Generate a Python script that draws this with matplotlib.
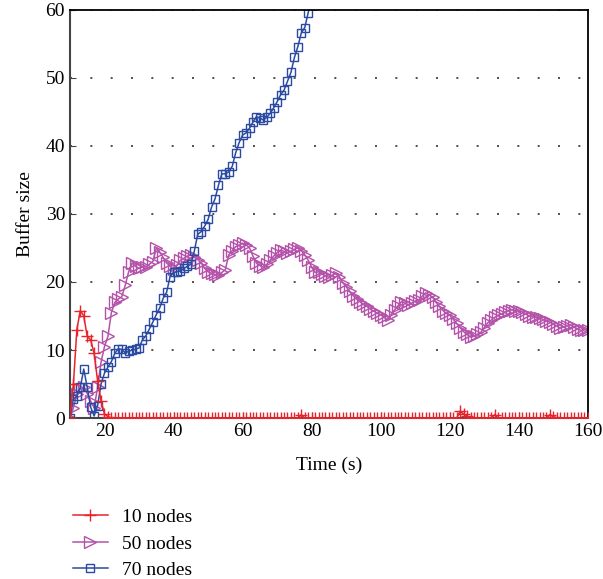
import matplotlib
matplotlib.use("Agg")
import matplotlib.pyplot as plt

plt.rcParams['font.family'] = ['Liberation Serif', 'DejaVu Serif']

# time axis (s)
t10 = list(range(10, 161))
t50 = list(range(10, 161))
t70 = list(range(10, 81))

nodes10 = [
    0, 5, 13, 15.8, 15, 12, 11.5, 9.5, 5.5, 2.5,      # 10-19
    0.6, 0.2, 0, 0, 0, 0, 0, 0, 0, 0,                 # 20-29
    0, 0, 0, 0, 0, 0, 0, 0, 0, 0,                     # 30-39
    0, 0, 0, 0, 0, 0, 0, 0, 0, 0,                     # 40-49
    0, 0, 0, 0, 0, 0, 0, 0, 0, 0,                     # 50-59
    0, 0, 0, 0, 0, 0, 0, 0, 0, 0,                     # 60-69
    0, 0, 0, 0, 0, 0, 0, 0.5, 0, 0,                   # 70-79
    0, 0, 0, 0, 0, 0, 0, 0, 0, 0,                     # 80-89
    0, 0, 0, 0, 0, 0, 0, 0, 0, 0,                     # 90-99
    0, 0, 0, 0, 0, 0, 0, 0, 0, 0,                     # 100-109
    0, 0, 0, 0, 0, 0, 0, 0, 0, 0,                     # 110-119
    0, 0, 0, 1.0, 0.6, 0.3, 0, 0, 0, 0,               # 120-129
    0, 0, 0, 0.5, 0, 0, 0, 0, 0, 0,                   # 130-139
    0, 0, 0, 0, 0, 0, 0, 0, 0, 0.5,                   # 140-149
    0.2, 0, 0, 0, 0, 0, 0, 0, 0, 0,                   # 150-159
    0,                                                # 160
]

nodes50 = [
    0, 1.5, 3.5, 4.3, 4.5, 3.6, 2.5, 1.5, 4.5, 8.2,
    10.5, 12, 15.5, 17, 17.5, 17.8, 19.5, 21.5, 22.8, 22.3,
    22, 22.2, 22.2, 22.6, 23, 25, 24.4, 23.6, 22.8, 22.3,
    21.9, 22.5, 23.2, 23.5, 23.8, 24, 23.7, 23.3, 22.8, 22,
    21.5, 21.3, 21.1, 21, 21.4, 21.8, 24, 24.6, 25.2, 25.4,
    25.7, 25.5, 25, 23.8, 22.8, 22.4, 22.2, 22.6, 23.2, 23.8,
    24.3, 24.7, 24.5, 24.3, 24.5, 24.8, 25, 24.6, 24, 23.2,
    22.2, 21.4, 21.5, 21.2, 20.9, 20.7, 21, 21.3, 20.8, 19.9,
    19.3, 18.6, 18, 17.5, 17.1, 16.7, 16.4, 16, 15.7, 15.4,
    15.2, 14.8, 14.4, 15.2, 15.9, 16.5, 17.1, 16.9, 16.6, 16.9,
    17.2, 17.4, 17.9, 18.4, 18.1, 17.8, 17, 16.4, 15.8, 15.4,
    15.1, 14.5, 13.9, 13.3, 12.7, 12.3, 11.9, 12, 12.3, 12.6,
    13.3, 14, 14.4, 14.8, 15.1, 15.3, 15.6, 15.8, 15.9, 15.8,
    15.7, 15.6, 15.3, 15, 14.9, 14.8, 14.7, 14.5, 14.3, 14.1,
    13.8, 13.5, 13.2, 13.4, 13.6, 13.7, 13.4, 13.1, 12.9, 13,
    12.9,
]

nodes70 = [
    0, 2.8, 3.2, 4.5, 7.2, 4.5, 1.6, 0.3, 1.8, 5,
    6.6, 7.5, 8.3, 9.5, 10.2, 10.1, 9.6, 9.8, 10, 10.1,
    10.3, 11.5, 12.1, 13.1, 14.1, 15.2, 16.2, 17.6, 18.5, 20.8,
    21.4, 21.5, 21.6, 22, 22.3, 22.6, 24.5, 27, 27.4, 28.2,
    29.2, 31, 32.2, 34.2, 35.9, 35.9, 36.2, 37, 39, 40.5,
    41.6, 41.9, 42.6, 43.5, 44.3, 44.1, 43.8, 44.2, 44.8, 45.6,
    46.5, 47.5, 48.2, 49.5, 50.8, 53, 54.6, 56.6, 57.4, 59.6,
    62,
]

xticks = [20, 40, 60, 80, 100, 120, 140, 160]
yticks = [0, 10, 20, 30, 40, 50, 60]

fig = plt.figure(figsize=(6.03, 5.79), dpi=100)
ax = fig.add_axes([0.116, 0.278, 0.859, 0.705])

ax.plot(t10, nodes10, color='#e8232b', lw=1.1, marker='+', ms=8, mew=1.0,
        label='10 nodes', zorder=3)
ax.plot(t50, nodes50, color='#b452aa', lw=1.1, marker='>', ms=8, mew=1.0,
        mfc='none', label='50 nodes', zorder=2)
ax.plot(t70, nodes70, color='#2b4aa2', lw=1.1, marker='s', ms=6, mew=1.0,
        mfc='none', label='70 nodes', zorder=2)

ax.set_xlim(10, 160)
ax.set_ylim(0, 60)
ax.set_xticks(xticks)
ax.set_yticks(yticks)
ax.tick_params(direction='in', labelsize=14, length=4, color='#444444')
ax.yaxis.grid(True, linestyle=(0, (1.2, 11)), color='#333333', lw=1.2)
ax.set_axisbelow(True)
for side in ['left', 'bottom']:
    ax.spines[side].set_color('#444444')
    ax.spines[side].set_linewidth(1.5)
for side in ['top', 'right']:
    ax.spines[side].set_linewidth(1.3)

ax.set_xlabel('Time (s)', fontsize=14, labelpad=12)
ax.set_ylabel('Buffer size', fontsize=14, labelpad=8)

fig.legend(loc='upper left', bbox_to_anchor=(0.108, 0.135), frameon=False,
           fontsize=14, handlelength=1.8, handletextpad=0.7,
           labelspacing=0.45, borderaxespad=0)

fig.savefig('out.png', dpi=100)
